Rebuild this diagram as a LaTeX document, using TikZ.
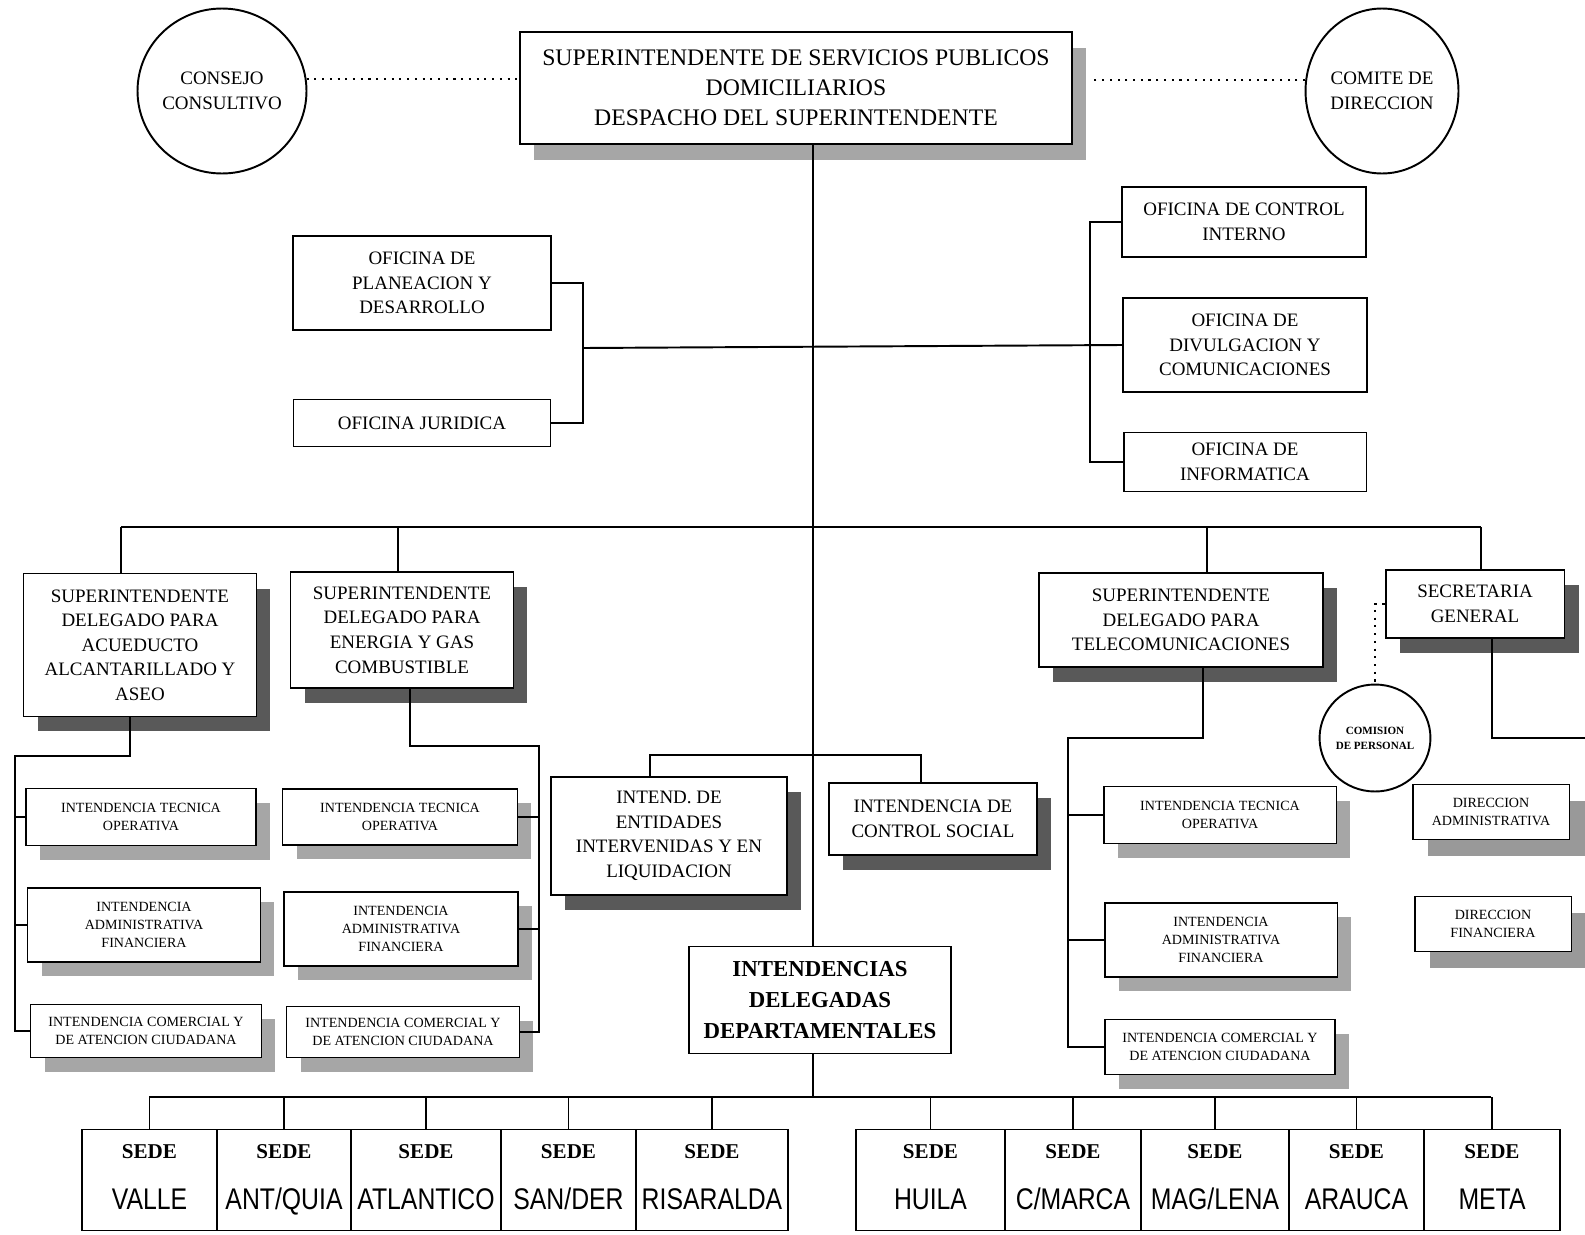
\documentclass[tikz,border=0pt]{standalone}
\usepackage{fontspec}
\setmainfont{Liberation Serif}
\newfontfamily\sedefont{Liberation Sans}[FakeStretch=0.83]
\usetikzlibrary{shapes.geometric,shadows,positioning}
\tikzset{
  box/.style={draw=black, line width=1.1pt, fill=white, inner sep=0pt, align=center},
  topbox/.style={box, font=\fontsize{13.5}{17}\selectfont,
    drop shadow={shadow xshift=0.28cm, shadow yshift=-0.32cm, fill=black!35, opacity=1}},
  offbox/.style={box, font=\fontsize{10.8}{14}\selectfont},
  delbox/.style={box, font=\fontsize{10.8}{14}\selectfont,
    drop shadow={shadow xshift=0.28cm, shadow yshift=-0.3cm, fill=black!65, opacity=1}},
  intbox/.style={box, font=\fontsize{8}{10.4}\selectfont,
    drop shadow={shadow xshift=0.28cm, shadow yshift=-0.28cm, fill=black!35, opacity=1}},
  dirbox/.style={box, font=\fontsize{8}{10.2}\selectfont,
    drop shadow={shadow xshift=0.3cm, shadow yshift=-0.32cm, fill=black!40, opacity=1}},
  circ/.style={ellipse, draw=black, line width=1.1pt, fill=white, inner sep=0pt, align=center,
    font=\fontsize{10.8}{14}\selectfont},
  sedebox/.style={draw=black, line width=1.1pt, inner sep=0pt, align=center,
    font=\bfseries\fontsize{12}{29}\selectfont},
  conn/.style={line width=1.1pt},
  dotline/.style={line width=1.2pt, dash pattern=on 1.2pt off 3.2pt}
}
\begin{document}
\begin{tikzpicture}[x=0.02cm, y=-0.02cm]
\fill[white] (0,0) rectangle (1585,1234);
\useasboundingbox (0,0) rectangle (1585,1234);

% despacho y organos asesores
\node[topbox, minimum width=11.04cm, minimum height=2.24cm] (top) at (796,88)
  {SUPERINTENDENTE DE SERVICIOS PUBLICOS\\DOMICILIARIOS\\DESPACHO DEL SUPERINTENDENTE};
\node[circ, minimum width=3.04cm, minimum height=3.3cm] (cons) at (222,91) {CONSEJO\\CONSULTIVO};
\node[circ, minimum width=3.06cm, minimum height=3.3cm] (comi) at (1382,91) {COMITE DE\\DIRECCION};

% oficinas
\node[offbox, minimum width=5.16cm, minimum height=1.88cm] (plan) at (422,283) {OFICINA DE\\PLANEACION Y\\DESARROLLO};
\node[offbox, minimum width=5.14cm, minimum height=0.94cm] (jur) at (422,423) {OFICINA JURIDICA};
\node[offbox, minimum width=4.88cm, minimum height=1.4cm] (ctrl) at (1244,222) {OFICINA DE CONTROL\\INTERNO};
\node[offbox, minimum width=4.88cm, minimum height=1.88cm] (div) at (1245,345) {OFICINA DE\\DIVULGACION Y\\COMUNICACIONES};
\node[offbox, minimum width=4.86cm, minimum height=1.18cm] (info) at (1245,462) {OFICINA DE\\INFORMATICA};

% superintendencias delegadas
\node[delbox, minimum width=4.66cm, minimum height=2.86cm] (acu) at (140,645)
  {SUPERINTENDENTE\\DELEGADO PARA\\ACUEDUCTO\\ALCANTARILLADO Y\\ASEO};
\node[delbox, minimum width=4.46cm, minimum height=2.32cm] (ene) at (402,630)
  {SUPERINTENDENTE\\DELEGADO PARA\\ENERGIA Y GAS\\COMBUSTIBLE};
\node[delbox, minimum width=5.68cm, minimum height=1.88cm] (tel) at (1181,620)
  {SUPERINTENDENTE\\DELEGADO PARA\\TELECOMUNICACIONES};
\node[delbox, minimum width=3.58cm, minimum height=1.36cm] (sec) at (1475,604) {SECRETARIA\\GENERAL};

% intendencias
\node[intbox, minimum width=4.6cm, minimum height=1.14cm] (tecL) at (141,817) {INTENDENCIA TECNICA\\OPERATIVA};
\node[intbox, minimum width=4.66cm, minimum height=1.48cm] (admL) at (144,925) {INTENDENCIA\\ADMINISTRATIVA\\FINANCIERA};
\node[intbox, minimum width=4.62cm, minimum height=1.06cm] (comL) at (146,1031) {INTENDENCIA COMERCIAL Y\\DE ATENCION CIUDADANA};
\node[intbox, minimum width=4.7cm, minimum height=1.12cm] (tecR) at (400,817) {INTENDENCIA TECNICA\\OPERATIVA};
\node[intbox, minimum width=4.68cm, minimum height=1.48cm] (admR) at (401,929) {INTENDENCIA\\ADMINISTRATIVA\\FINANCIERA};
\node[intbox, minimum width=4.66cm, minimum height=1.02cm] (comR) at (403,1032) {INTENDENCIA COMERCIAL Y\\DE ATENCION CIUDADANA};
\node[intbox, minimum width=4.66cm, minimum height=1.14cm] (tecT) at (1220,815) {INTENDENCIA TECNICA\\OPERATIVA};
\node[intbox, minimum width=4.66cm, minimum height=1.48cm] (admT) at (1221,940) {INTENDENCIA\\ADMINISTRATIVA\\FINANCIERA};
\node[intbox, minimum width=4.6cm, minimum height=1.1cm] (comT) at (1220,1047) {INTENDENCIA COMERCIAL Y\\DE ATENCION CIUDADANA};

\node[delbox, minimum width=4.72cm, minimum height=2.36cm] (ent) at (669,836)
  {INTEND. DE\\ENTIDADES\\INTERVENIDAS Y EN\\LIQUIDACION};
\node[delbox, minimum width=4.16cm, minimum height=1.44cm] (csoc) at (933,819) {INTENDENCIA DE\\CONTROL SOCIAL};
\node[box, font=\bfseries\fontsize{13}{17.6}\selectfont, minimum width=5.24cm, minimum height=2.14cm] (ddep) at (820,1000)
  {INTENDENCIAS\\DELEGADAS\\DEPARTAMENTALES};

\node[circ, font=\bfseries\fontsize{6.3}{8.5}\selectfont, minimum width=1.88cm, minimum height=2.14cm] (cper) at (1375,738)
  {COMISION\\DE PERSONAL};
\node[dirbox, minimum width=3.14cm, minimum height=1.1cm] (dadm) at (1491,812) {DIRECCION\\ADMINISTRATIVA};
\node[dirbox, minimum width=3.14cm, minimum height=1.1cm] (dfin) at (1493,924) {DIRECCION\\FINANCIERA};

% sedes
\coordinate (sbL) at (149,1097);
\coordinate (sbR) at (1491,1097);
\draw[conn] (sbL) -- (sbR);
\foreach \l/\r/\n/\t in {82/217/valle/VALLE, 217/351/antq/{ANT/QUIA}, 351/501/atl/ATLANTICO,
    501/636/sand/{SAN/DER}, 636/788/ris/RISARALDA, 856/1005/hui/HUILA, 1005/1141/cmar/{C/MARCA},
    1141/1289/mag/{MAG/LENA}, 1289/1424/ara/ARAUCA, 1424/1560/met/META}{
  \pgfmathsetmacro\w{(\r-\l)*0.02}
  \pgfmathsetmacro\cx{(\l+\r)/2}
  \node[sedebox, minimum width=\w cm, minimum height=2.02cm] (sede-\n) at (\cx,1180)
    {SEDE\\{\sedefont\mdseries\fontsize{17}{29}\selectfont\vphantom{Q/}\t}};
  \draw[conn] (sede-\n.north |- sbL) -- (sede-\n.north);
}

% tronco
\coordinate (tr) at (813,0);
\draw[conn] (top.south -| tr) -- (ddep.north -| tr);
\draw[conn] (ddep.south -| tr) -- (tr |- sbL);

% oficinas asesoras
\coordinate (lbr) at (583,348);
\coordinate (rbr) at (1090,348);
\draw[conn] (plan.east) -| (lbr) |- (jur.east);
\draw[conn] (lbr) -- (div.west);
\draw[conn] (ctrl.west) -| (rbr) |- (info.west);

% nivel delegado
\coordinate (b1) at (121,527);
\coordinate (b2) at (398,527);
\coordinate (b3) at (1207,527);
\coordinate (b4) at (1481,527);
\draw[conn] (b1) -- (b4);
\foreach \c/\n in {b1/acu, b2/ene, b3/tel, b4/sec}
  \draw[conn] (\c) -- (\c |- \n.north);

% intendencias de acueducto
\coordinate (la) at (130,756);
\coordinate (lb) at (15,756);
\draw[conn] (acu.south -| la) -- (la) -- (lb) |- (comL.west);
\draw[conn] (lb |- tecL.west) -- (tecL.west);
\draw[conn] (lb |- admL.west) -- (admL.west);

% intendencias de energia
\coordinate (ea) at (410,746);
\coordinate (eb) at (539,746);
\draw[conn] (ene.south -| ea) -- (ea) -- (eb) |- (comR.east);
\draw[conn] (eb |- tecR.east) -- (tecR.east);
\draw[conn] (eb |- admR.east) -- (admR.east);

% intendencias de telecomunicaciones
\coordinate (ta) at (1203,738);
\coordinate (tb) at (1068,738);
\draw[conn] (tel.south -| ta) -- (ta) -- (tb) |- (comT.west);
\draw[conn] (tb |- tecT.west) -- (tecT.west);
\draw[conn] (tb |- admT.west) -- (admT.west);

% secretaria
\coordinate (sa) at (1492,738);
\coordinate (send) at (1585,738);
\draw[conn] (sec.south -| sa) -- (sa) -- (send);

% entidades y control social
\coordinate (ca) at (650,755);
\coordinate (cb) at (921,755);
\draw[conn] (ent.north -| ca) -- (ca) -- (cb) -- (csoc.north -| cb);

% lineas punteadas
\draw[dotline] (cons.8) -- (top.west |- cons.8);
\draw[dotline, shorten >=0.34cm] (comi.172) -- (top.east |- comi.172);
\draw[dotline] (sec.west) -| (cper.north);
\end{tikzpicture}
\end{document}
